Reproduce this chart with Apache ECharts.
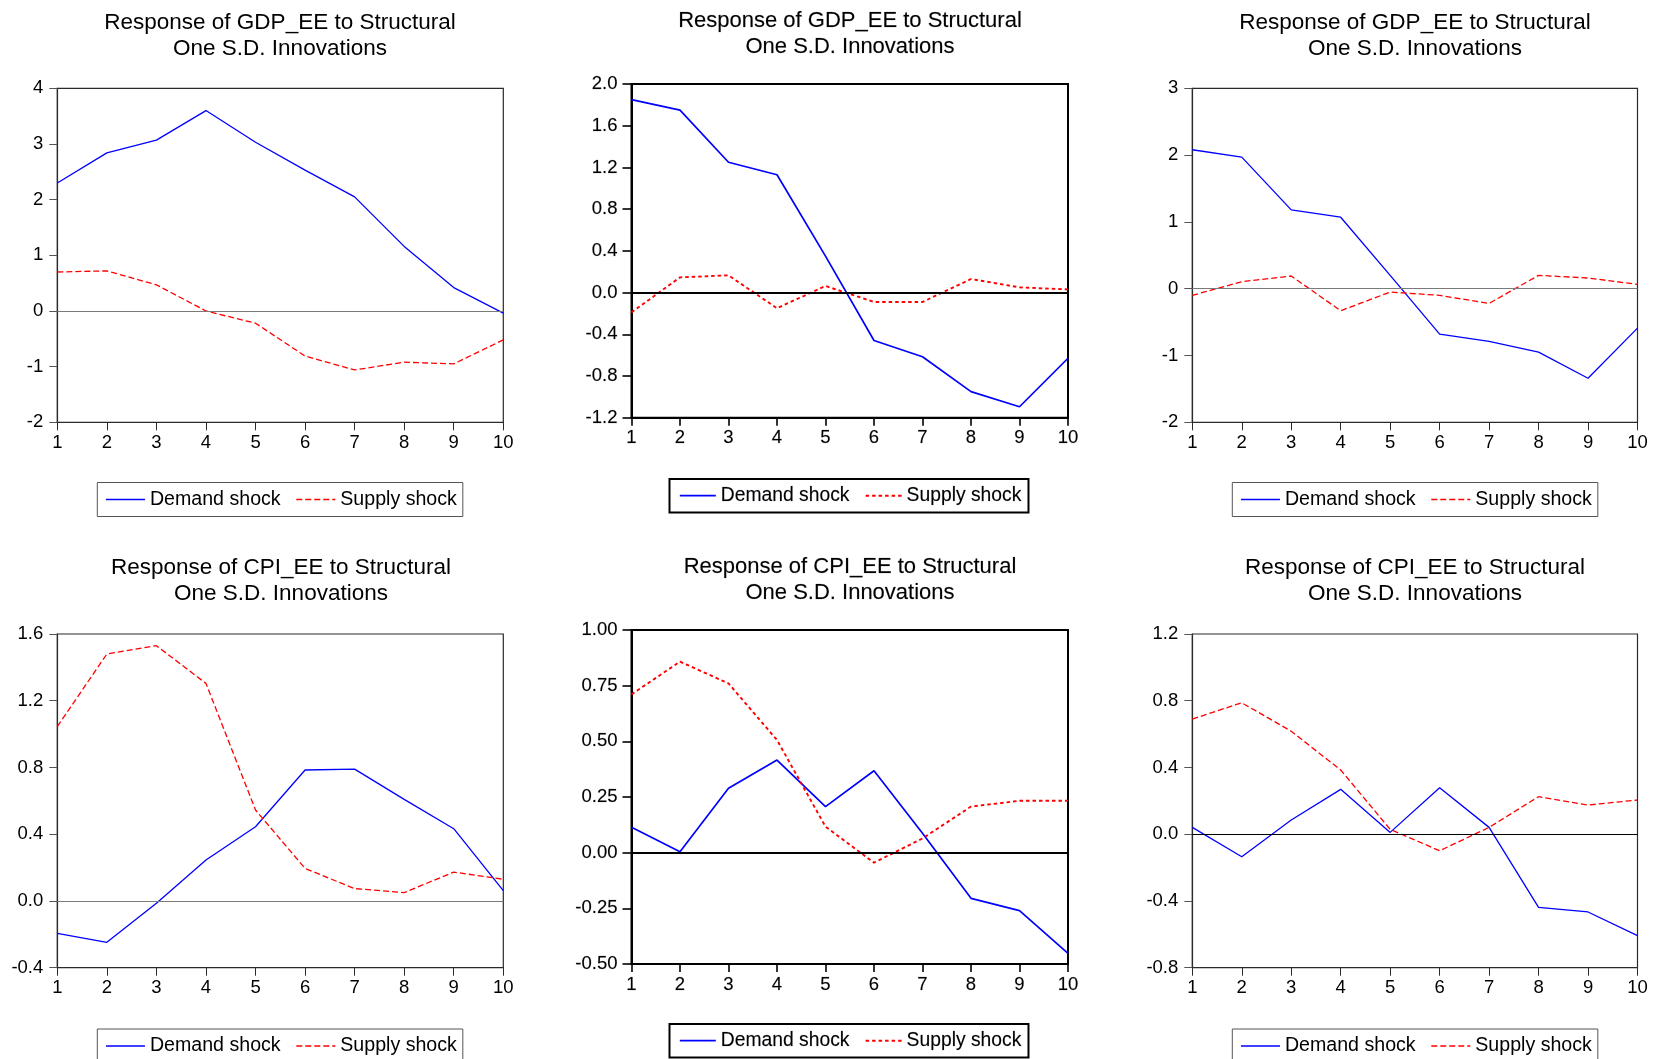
<!DOCTYPE html>
<html>
<head>
<meta charset="utf-8">
<title>Impulse responses: GDP_EE and CPI_EE</title>
<script src="https://cdn.jsdelivr.net/npm/echarts@6/dist/echarts.min.js"></script>
<style>
  html, body { margin: 0; padding: 0; background: #ffffff; }
  #chart { width: 1655px; height: 1059px; }
</style>
</head>
<body>
<div id="chart"></div>
<script>
// Forecast horizon (periods after the shock)
const horizon = [1, 2, 3, 4, 5, 6, 7, 8, 9, 10];

// Response of GDP_EE, three model variants
const gdpDemandA = [2.30, 2.84, 3.07, 3.60, 3.03, 2.53, 2.05, 1.16, 0.42, -0.04];
const gdpSupplyA = [0.70, 0.72, 0.47, 0.00, -0.22, -0.81, -1.06, -0.92, -0.95, -0.52];
const gdpDemandB = [1.85, 1.75, 1.25, 1.13, 0.35, -0.46, -0.615, -0.95, -1.095, -0.63];
const gdpSupplyB = [-0.19, 0.146, 0.165, -0.15, 0.063, -0.09, -0.09, 0.13, 0.05, 0.03];
const gdpDemandC = [2.08, 1.97, 1.18, 1.07, 0.20, -0.68, -0.79, -0.95, -1.34, -0.59];
const gdpSupplyC = [-0.10, 0.105, 0.19, -0.33, -0.05, -0.10, -0.22, 0.20, 0.16, 0.065];

// Response of CPI_EE, three model variants
const cpiDemandA = [-0.194, -0.248, -0.014, 0.245, 0.445, 0.785, 0.79, 0.609, 0.433, 0.062];
const cpiSupplyA = [1.045, 1.48, 1.53, 1.304, 0.545, 0.195, 0.074, 0.05, 0.173, 0.13];
const cpiDemandB = [0.114, 0.004, 0.289, 0.416, 0.207, 0.368, 0.087, -0.205, -0.26, -0.452];
const cpiSupplyB = [0.711, 0.858, 0.76, 0.506, 0.117, -0.045, 0.064, 0.207, 0.233, 0.233];
const cpiDemandC = [0.041, -0.135, 0.085, 0.269, 0.011, 0.279, 0.041, -0.438, -0.466, -0.608];
const cpiSupplyC = [0.69, 0.788, 0.617, 0.385, 0.029, -0.099, 0.041, 0.225, 0.175, 0.205];

// Y-axis tick values for each panel
const yTicksGdpA = [-2, -1, 0, 1, 2, 3, 4];
const yTicksGdpB = [-1.2, -0.8, -0.4, 0.0, 0.4, 0.8, 1.2, 1.6, 2.0];
const yTicksGdpC = [-2, -1, 0, 1, 2, 3];
const yTicksCpiA = [-0.4, 0.0, 0.4, 0.8, 1.2, 1.6];
const yTicksCpiB = [-0.50, -0.25, 0.00, 0.25, 0.50, 0.75, 1.00];
const yTicksCpiC = [-0.8, -0.4, 0.0, 0.4, 0.8, 1.2];
const yDecimals = [0, 1, 0, 1, 2, 1];

// Titles and legend names
const titleGdp = 'Response of GDP_EE to Structural\nOne S.D. Innovations';
const titleCpi = 'Response of CPI_EE to Structural\nOne S.D. Innovations';
const shockNames = ['Demand shock', 'Supply shock'];

const FONT = "'Liberation Sans', Arial, Helvetica, sans-serif";

// Panel layout and look (pixels)
const panels = [
  { title: titleGdp, demand: gdpDemandA, supply: gdpSupplyA, ticks: yTicksGdpA,
    grid: [57.3, 88.3, 446, 334], titleX: 280, titleY: 10, legend: [97.3, 482.5], style: 'plain', zero: '#7a7a7a' },
  { title: titleGdp, demand: gdpDemandB, supply: gdpSupplyB, ticks: yTicksGdpB,
    grid: [631.5, 84, 436.5, 333.7], titleX: 850, titleY: 8, legend: [669.5, 479], style: 'bold', zero: '#000000' },
  { title: titleGdp, demand: gdpDemandC, supply: gdpSupplyC, ticks: yTicksGdpC,
    grid: [1192.3, 88.3, 445.2, 334], titleX: 1415, titleY: 10, legend: [1232.3, 482.5], style: 'plain', zero: '#7a7a7a' },
  { title: titleCpi, demand: cpiDemandA, supply: cpiSupplyA, ticks: yTicksCpiA,
    grid: [57.3, 634, 446, 333.7], titleX: 281, titleY: 555, legend: [97.3, 1029], style: 'plain', zero: '#7a7a7a' },
  { title: titleCpi, demand: cpiDemandB, supply: cpiSupplyB, ticks: yTicksCpiB,
    grid: [631.5, 630, 436.5, 334], titleX: 850, titleY: 554, legend: [669.5, 1024], style: 'bold', zero: '#000000' },
  { title: titleCpi, demand: cpiDemandC, supply: cpiSupplyC, ticks: yTicksCpiC,
    grid: [1192.3, 634, 445.2, 333.7], titleX: 1415, titleY: 555, legend: [1232.3, 1029], style: 'plain', zero: '#000000' }
];

const option = {
  backgroundColor: '#ffffff',
  animation: false,
  title: [], grid: [], xAxis: [], yAxis: [], legend: [], series: []
};

panels.forEach((p, i) => {
  const bold = p.style === 'bold';
  const frameColor = bold ? '#000000' : '#2a2a2a';
  const frameWidth = bold ? 2 : 1.2;
  const ticks = p.ticks;
  const step = +(ticks[1] - ticks[0]).toFixed(4);
  const dec = yDecimals[i];
  // the bold panels use a slightly heavier, softer text stroke
  const heavy = bold ? { textBorderColor: 'rgba(30,30,60,0.35)', textBorderWidth: 0.4 } : {};

  option.title.push({
    text: p.title,
    left: p.titleX,
    top: p.titleY,
    textAlign: 'center',
    padding: 0,
    textStyle: Object.assign({
      fontFamily: FONT, fontSize: bold ? 22 : 22.5, fontWeight: 'normal',
      color: '#000000', lineHeight: 26
    }, heavy)
  });

  option.grid.push({
    left: p.grid[0], top: p.grid[1], width: p.grid[2], height: p.grid[3],
    show: true, borderColor: frameColor, borderWidth: frameWidth,
    backgroundColor: 'rgba(0,0,0,0)'
  });

  option.xAxis.push({
    type: 'value', gridIndex: i,
    min: horizon[0], max: horizon[horizon.length - 1], interval: 1,
    axisLine: { show: true, onZero: false, lineStyle: { color: frameColor, width: frameWidth } },
    axisTick: { show: true, inside: false, length: 8, lineStyle: { color: frameColor, width: bold ? 1.6 : 1 } },
    axisLabel: Object.assign({ margin: 11, fontFamily: FONT, fontSize: 18.5, color: '#000000' }, heavy),
    splitLine: { show: false }
  });

  option.yAxis.push({
    type: 'value', gridIndex: i,
    min: ticks[0], max: ticks[ticks.length - 1], interval: step,
    axisLine: { show: true, onZero: false, lineStyle: { color: frameColor, width: frameWidth } },
    axisTick: { show: true, inside: false, length: bold ? 9 : 8, lineStyle: { color: bold ? '#000000' : '#555555', width: bold ? 1.6 : 1 } },
    axisLabel: Object.assign({
      margin: 14, fontFamily: FONT, fontSize: 18.5, color: '#000000',
      formatter: v => (Math.abs(v) < 1e-9 ? 0 : v).toFixed(dec)
    }, heavy),
    splitLine: { show: false }
  });

  const demandStyle = { color: '#0000ff', width: bold ? 1.7 : 1.3, type: 'solid' };
  const supplyStyle = { color: '#ff0000', width: bold ? 1.9 : 1.3, type: bold ? [3.5, 3] : [6, 3] };
  // legend keys are plain line samples, no marker in the middle
  const noMarker = { color: 'rgba(0,0,0,0)', opacity: 0, borderWidth: 0 };

  option.legend.push({
    left: p.legend[0], top: p.legend[1],
    orient: 'horizontal',
    selectedMode: false,
    itemWidth: bold ? 36 : 39, itemHeight: 12, itemGap: bold ? 15 : 15,
    padding: bold ? [7, 7, 7, 9.5] : [7, 6, 7, 8],
    borderColor: bold ? '#000000' : '#555555', borderWidth: bold ? 2 : 1,
    textStyle: Object.assign({ fontFamily: FONT, fontSize: bold ? 19.3 : 19.6, color: '#000000' }, heavy),
    data: [
      { name: shockNames[0], lineStyle: demandStyle, itemStyle: noMarker },
      { name: shockNames[1], lineStyle: supplyStyle, itemStyle: noMarker }
    ]
  });

  option.series.push({
    name: shockNames[0], type: 'line', xAxisIndex: i, yAxisIndex: i,
    symbol: 'none', z: 3,
    lineStyle: demandStyle,
    data: horizon.map((h, k) => [h, p.demand[k]]),
    markLine: {
      silent: true, symbol: 'none', animation: false,
      label: { show: false },
      lineStyle: { color: p.zero, width: bold ? 2 : 1.2, type: 'solid' },
      emphasis: { disabled: true },
      data: [{ yAxis: 0 }]
    }
  });
  option.series.push({
    name: shockNames[1], type: 'line', xAxisIndex: i, yAxisIndex: i,
    symbol: 'none', z: 3,
    lineStyle: supplyStyle,
    data: horizon.map((h, k) => [h, p.supply[k]])
  });
});

const chart = echarts.init(document.getElementById('chart'), null, { renderer: 'canvas' });
chart.setOption(option);
</script>
</body>
</html>
